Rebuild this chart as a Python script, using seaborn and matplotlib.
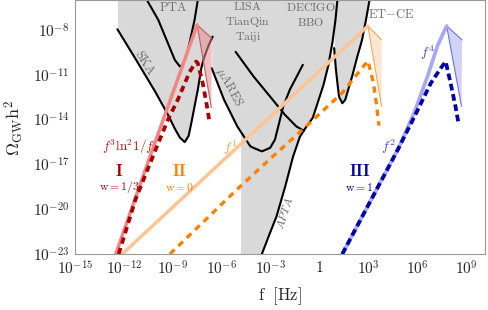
import numpy as np
import pandas as pd
import matplotlib
matplotlib.use("Agg")
import matplotlib.pyplot as plt
import seaborn as sns

# all values, as log10(f/Hz) and log10(Omega h^2)
ska_logf = [-12.40, -11.29, -10.08, -9.30, -8.88, -8.57, -8.27, -8.03, -7.85, -7.67, -7.47, -7.25, -7.07, -6.82, -6.56]
ska_logo = [-7.96, -9.94, -12.14, -13.68, -14.61, -15.21, -15.51, -15.08, -14.14, -13.12, -12.01, -10.54, -9.81, -9.07, -8.45]

pta_logf = [-10.59, -9.89, -8.88, -8.57, -8.39, -8.07, -7.67, -7.47]
pta_logo = [-6.0, -7.34, -10.01, -10.45, -10.34, -9.34, -7.34, -6.0]

mares_logf = [-6.62, -5.86, -5.05, -4.25, -4.05, -3.54, -3.04, -2.74, -2.48, -2.23, -1.83, -1.03]
mares_logo = [-10.56, -12.68, -14.46, -15.79, -15.90, -16.13, -15.90, -15.35, -14.21, -13.12, -12.01, -10.34]

lisa_logf = [-5.15, -4.05, -3.04, -2.13, -1.43, -0.97]
lisa_logo = [-9.47, -11.12, -12.46, -13.68, -14.46, -14.75]

apta_edge = -4.85
apta_logf = [-3.54, -3.08, -2.64, -2.11, -1.63, -1.21, -0.85, -0.42, -0.06, 0.24, 0.54, 0.79, 0.97, 1.09]
apta_logo = [-23.0, -21.69, -20.47, -18.48, -16.48, -15.15, -14.54, -13.88, -12.68, -11.67, -10.34, -8.80, -7.34, -6.0]

etce_logf = [0.89, 1.00, 1.09, 1.19, 1.39, 1.57, 1.75, 1.99, 2.29, 2.60, 2.84, 3.06]
etce_logo = [-9.22, -10.67, -11.56, -12.48, -12.91, -12.68, -12.01, -11.12, -9.87, -8.67, -7.34, -6.0]

# model spectra
red_solid_logf = [-12.50, -10.49, -7.51]
red_solid_logo = [-23.0, -16.75, -7.67]
red_dash_logf = [-12.32, -11.29, -10.08, -9.30, -8.70, -7.97, -7.57, -7.47, -7.17, -6.87, -6.76]
red_dash_logo = [-23.0, -19.35, -16.08, -14.01, -12.68, -10.81, -10.12, -10.23, -11.56, -13.34, -14.12]
red_tri_logf = [-7.51, -6.61, -6.64]
red_tri_logo = [-7.67, -8.56, -13.21]

orange_solid_logf = [-12.10, 2.96]
orange_solid_logo = [-23.0, -7.74]
orange_dash_logf = [-9.18, -7.79, -5.07, -3.08, -0.85, 1.39, 2.17, 2.96, 3.30, 3.50, 3.64]
orange_dash_logo = [-23.0, -21.55, -18.68, -16.68, -14.48, -12.21, -11.14, -10.07, -11.56, -13.12, -14.41]
orange_tri_logf = [2.96, 3.80, 3.80]
orange_tri_logo = [-7.74, -8.67, -13.12]

blue_solid_logf = [1.39, 4.81, 5.82, 6.62, 7.25, 7.79]
blue_solid_logo = [-23.0, -15.98, -13.5, -11.1, -9.0, -7.74]
blue_dash_logf = [1.39, 4.81, 5.82, 6.82, 7.43, 7.73, 8.03, 8.33, 8.53]
blue_dash_logo = [-23.0, -15.98, -13.79, -11.56, -10.56, -10.12, -11.56, -13.12, -14.34]
blue_tri_logf = [7.79, 8.74, 8.70]
blue_tri_logo = [-7.74, -8.67, -13.12]

xtick_exp = [-15, -12, -9, -6, -3, 0, 3, 6, 9]
ytick_exp = [-23, -20, -17, -14, -11, -8]

sns.set_style("white")
plt.rcParams["mathtext.fontset"] = "cm"
plt.rcParams["font.family"] = ["DejaVu Serif"]

gray = "#d9d9d9"
labgray = "#6e6e6e"

fig = plt.figure(figsize=(4.88, 3.10), dpi=100)
ax = fig.add_axes([75 / 488, 56 / 310, 410 / 488, 254 / 310])
ax.set_xscale("log")
ax.set_yscale("log")

def p(v):
    return 10.0 ** np.array(v)

# gray sensitivity regions
for lf, lo in [(ska_logf, ska_logo), (pta_logf, pta_logo), (mares_logf, mares_logo), (etce_logf, etce_logo)]:
    ax.fill_between(p(lf), p(lo), 1e-6, color=gray, lw=0, zorder=0)
ax.fill_betweenx(p(apta_logo), 10.0 ** apta_edge, p(apta_logf), color=gray, lw=0, zorder=0)

for lf, lo in [(ska_logf, ska_logo), (pta_logf, pta_logo), (mares_logf, mares_logo),
               (lisa_logf, lisa_logo), (apta_logf, apta_logo), (etce_logf, etce_logo)]:
    sns.lineplot(x=p(lf), y=p(lo), ax=ax, color="black", lw=1.5, sort=False, estimator=None, zorder=2)

# peak triangles
for lf, lo, fc, ec in [(red_tri_logf, red_tri_logo, "#e88a8a", "#c06060"),
                       (orange_tri_logf, orange_tri_logo, "#fcd3ad", "#f5a860"),
                       (blue_tri_logf, blue_tri_logo, "#aeaef5", "#7070e0")]:
    ax.fill(p(lf), p(lo), color=fc, alpha=0.55, lw=0, zorder=2.5)
    sns.lineplot(x=p(lf[:2]), y=p(lo[:2]), ax=ax, color=ec, lw=0.8, sort=False, estimator=None, zorder=2.6)
    sns.lineplot(x=p([lf[0], lf[2]]), y=p([lo[0], lo[2]]), ax=ax, color=ec, lw=0.8, sort=False, estimator=None, zorder=2.6)

sns.lineplot(x=p(red_solid_logf), y=p(red_solid_logo), ax=ax, color="#f38585", lw=2.5, sort=False, estimator=None, zorder=3)
sns.lineplot(x=p(orange_solid_logf), y=p(orange_solid_logo), ax=ax, color="#fdc594", lw=2.5, sort=False, estimator=None, zorder=3)
sns.lineplot(x=p(blue_solid_logf), y=p(blue_solid_logo), ax=ax, color="#a9a9f2", lw=2.7, sort=False, estimator=None, zorder=3)

for lf, lo, c, lw, d in [(red_dash_logf, red_dash_logo, "#a80000", 2.7, (1.7, 1.2)),
                         (orange_dash_logf, orange_dash_logo, "#ff8000", 2.4, (1.9, 1.6)),
                         (blue_dash_logf, blue_dash_logo, "#0000a8", 2.7, (1.8, 1.0))]:
    sns.lineplot(x=p(lf), y=p(lo), ax=ax, color=c, lw=lw, sort=False, estimator=None, zorder=3.5)
    ax.lines[-1].set_dashes(d)
    ax.lines[-1].set_dash_capstyle("butt")

# labels of experiments
def t(lf, lo, s, **kw):
    ax.text(10.0 ** lf, 10.0 ** lo, s, ha="center", va="center", zorder=5, **kw)

t(-9.0, -6.53, r"$\mathrm{PTA}$", color=labgray, fontsize=9)
t(-10.69, -10.2, r"$\mathrm{SKA}$", color=labgray, fontsize=9, rotation=-58)
t(-5.56, -11.81, r"$\mu\mathrm{ARES}$", color=labgray, fontsize=9, rotation=-62)
t(-4.41, -6.45, r"$\mathrm{LISA}$", color=labgray, fontsize=8.5)
t(-4.41, -7.50, r"$\mathrm{TianQin}$", color=labgray, fontsize=8.5)
t(-4.41, -8.50, r"$\mathrm{Taiji}$", color=labgray, fontsize=8.5)
t(-0.53, -6.49, r"$\mathrm{DECIGO}$", color=labgray, fontsize=8.5)
t(-0.53, -7.52, r"$\mathrm{BBO}$", color=labgray, fontsize=8.5)
t(4.41, -7.0, r"$\mathrm{ET{-}CE}$", color=labgray, fontsize=9)
t(-2.13, -20.24, r"$APTA$", color=labgray, fontsize=8.5, rotation=72)

t(-11.75, -15.81, r"$f^3\mathrm{ln}^2 1/f$", color="#b01818", fontsize=9.5)
t(-12.30, -17.46, r"$\mathbf{I}$", color="#a00000", fontsize=12)
t(-12.30, -18.53, r"$\mathrm{w{=}1/3}$", color="#a00000", fontsize=8.5)
t(-8.57, -17.46, r"$\mathbf{II}$", color="#ff8000", fontsize=12)
t(-8.57, -18.55, r"$\mathrm{w{=}0}$", color="#ff8000", fontsize=8.5)
t(2.43, -17.46, r"$\mathbf{III}$", color="#0000a0", fontsize=12)
t(2.43, -18.55, r"$\mathrm{w{=}1}$", color="#0000a0", fontsize=8.5)
t(-5.50, -15.88, r"$f^1$", color="#f4a040", fontsize=10)
t(4.21, -15.79, r"$f^2$", color="#4848c0", fontsize=10)
t(6.62, -9.56, r"$f^4$", color="#4848c0", fontsize=10)

# axes
ax.set_xlim(10.0 ** -14.61, 10.0 ** 10.14)
ax.set_ylim(1e-23, 1e-6)
xlabels = ["$1$" if e == 0 else "$10^{%d}$" % e for e in xtick_exp]
ax.set_xticks([10.0 ** e for e in xtick_exp], xlabels)
ax.set_yticks([10.0 ** e for e in ytick_exp], ["$10^{%d}$" % e for e in ytick_exp])
ax.set_xticks([10.0 ** e for e in range(-14, 11)], minor=True)
ax.set_yticks([10.0 ** e for e in range(-23, -5)], minor=True)
ax.xaxis.set_minor_formatter(matplotlib.ticker.NullFormatter())
ax.yaxis.set_minor_formatter(matplotlib.ticker.NullFormatter())
ax.tick_params(which="major", direction="in", length=4, width=0.7, color="#999999", labelsize=11, pad=4)
ax.tick_params(which="minor", direction="in", length=3, width=0.6, color="#999999")
for s in ax.spines.values():
    s.set_color("#999999")
    s.set_linewidth(0.8)
ax.set_xlabel("")
ax.set_ylabel("")
fig.text(280 / 488, 1 - 296 / 310, r"$\mathrm{f\ \ [Hz]}$", ha="center", va="center", fontsize=12)
fig.text(14 / 488, 1 - 128 / 310, r"$\Omega_{\mathrm{GW}}\mathrm{h}^2$", ha="center", va="center", fontsize=13, rotation=90)

fig.savefig("out.png", dpi=100)
